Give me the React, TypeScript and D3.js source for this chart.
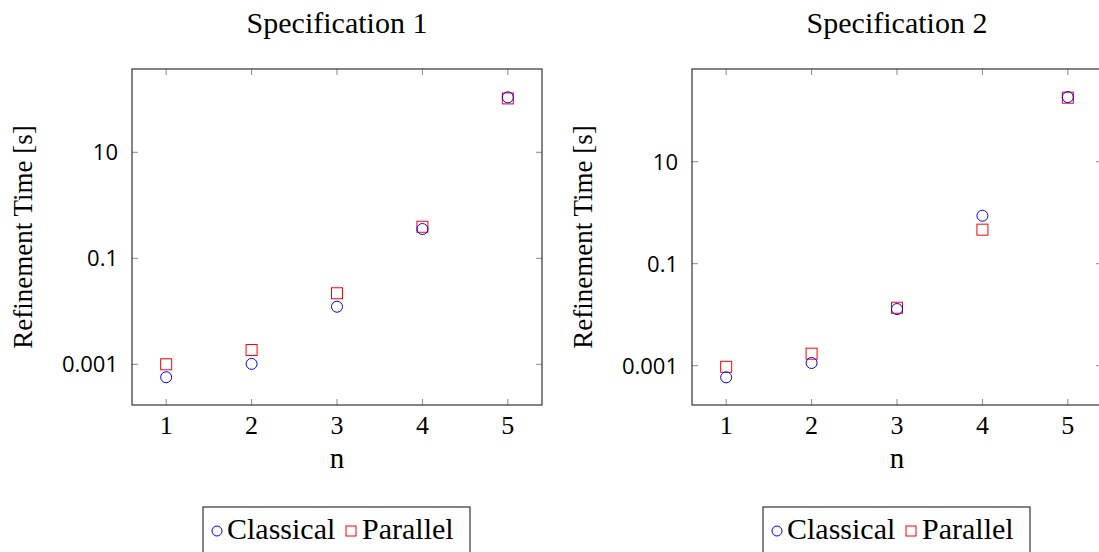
import React from "react";
import * as d3 from "d3";

const nValues = [1, 2, 3, 4, 5];
const spec1Classical = [0.00057, 0.00102, 0.0122, 0.357, 109];
const spec1Parallel = [0.001, 0.00186, 0.0219, 0.394, 104];
const spec2Classical = [0.00059, 0.00113, 0.0129, 0.873, 185];
const spec2Parallel = [0.00095, 0.00172, 0.0137, 0.465, 180];
const yTickValues = [0.001, 0.1, 10];
const yTickLabels = ["0.001", "0.1", "10"];
const titles = ["Specification 1", "Specification 2"];
const seriesNames = ["Classical", "Parallel"];

const SERIF = "'Liberation Serif', 'DejaVu Serif', serif";
const SANS = "'Open Sans', 'DejaVu Sans', sans-serif";

type PanelProps = {
  x0: number;
  title: string;
  classical: number[];
  parallel: number[];
  yDomain: [number, number];
};

function Panel({ x0, title, classical, parallel, yDomain }: PanelProps) {
  const left = x0;
  const right = x0 + 410;
  const top = 69;
  const bottom = 405;
  const x = d3.scaleLinear().domain([0.6, 5.4]).range([left, right]);
  const y = d3.scaleLog().domain(yDomain).range([bottom, top]);
  const tickLen = 6;
  const tickColor = "#8a8a8a";
  const cx = (left + right) / 2;
  return (
    <g>
      <text x={cx} y={33} textAnchor="middle" fontFamily={SERIF} fontSize={30}>
        {title}
      </text>
      {nValues.map((v) => (
        <g key={"xt" + v}>
          <line x1={x(v)} x2={x(v)} y1={bottom} y2={bottom - tickLen} stroke={tickColor} strokeWidth={1} />
          <line x1={x(v)} x2={x(v)} y1={top} y2={top + tickLen} stroke={tickColor} strokeWidth={1} />
          <text x={x(v)} y={434} textAnchor="middle" fontFamily={SERIF} fontSize={26}>
            {String(v)}
          </text>
        </g>
      ))}
      {yTickValues.map((v, i) => (
        <g key={"yt" + i}>
          <line x1={left} x2={left + tickLen} y1={y(v)} y2={y(v)} stroke={tickColor} strokeWidth={1} />
          <line x1={right} x2={right - tickLen} y1={y(v)} y2={y(v)} stroke={tickColor} strokeWidth={1} />
          <text x={left - 14} y={y(v) + 8} textAnchor="end" fontFamily={SANS} fontSize={22}>
            {yTickLabels[i]}
          </text>
        </g>
      ))}
      <rect x={left} y={top} width={right - left} height={bottom - top} fill="none" stroke="#333" strokeWidth={1.2} />
      <text x={cx} y={468} textAnchor="middle" fontFamily={SERIF} fontSize={29}>
        n
      </text>
      <text
        transform={`translate(${left - 100},${(top + bottom) / 2}) rotate(-90)`}
        textAnchor="middle"
        fontFamily={SERIF}
        fontSize={27}
      >
        Refinement Time [s]
      </text>
      {nValues.map((v, i) => (
        <rect
          key={"p" + i}
          x={x(v) - 5.5}
          y={y(parallel[i]) - 5.5}
          width={11}
          height={11}
          fill="none"
          stroke="#ff0000"
          strokeWidth={1}
        />
      ))}
      {nValues.map((v, i) => (
        <circle key={"c" + i} cx={x(v)} cy={y(classical[i])} r={5.5} fill="none" stroke="#0000ff" strokeWidth={1} />
      ))}
      <g>
        <rect x={left + 71} y={507} width={267} height={60} fill="white" stroke="#333" strokeWidth={1.2} />
        <circle cx={left + 85} cy={531} r={5} fill="none" stroke="#0000ff" strokeWidth={1} />
        <text x={left + 95} y={539} fontFamily={SERIF} fontSize={30}>
          {seriesNames[0]}
        </text>
        <rect x={left + 214} y={526} width={10} height={10} fill="none" stroke="#ff0000" strokeWidth={1} />
        <text x={left + 230} y={539} fontFamily={SERIF} fontSize={30}>
          {seriesNames[1]}
        </text>
      </g>
    </g>
  );
}

export default function App() {
  return (
    <svg
      width={1099}
      height={552}
      style={{ position: "absolute", left: 0, top: 0, background: "white" }}
    >
      <Panel
        x0={132}
        title={titles[0]}
        classical={spec1Classical}
        parallel={spec1Parallel}
        yDomain={[Math.pow(10, -3.768), Math.pow(10, 2.572)]}
      />
      <Panel
        x0={692}
        title={titles[1]}
        classical={spec2Classical}
        parallel={spec2Parallel}
        yDomain={[Math.pow(10, -3.771), Math.pow(10, 2.818)]}
      />
    </svg>
  );
}
